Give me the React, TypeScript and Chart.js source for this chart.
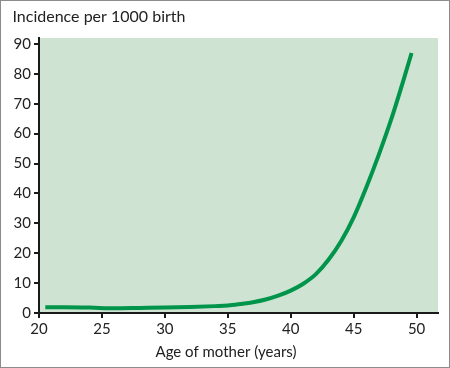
import React, { useEffect, useRef } from "react";
import { Chart, registerables } from "chart.js";

Chart.register(...registerables);

const ages = [20.5, 22, 24, 26, 28, 30, 32, 34, 35, 36, 37, 38, 39, 40, 41, 42, 43, 44, 45, 46, 47, 48, 49, 49.6];
const incidence = [1.9, 1.9, 1.8, 1.6, 1.7, 1.8, 2.0, 2.3, 2.5, 3.0, 3.6, 4.5, 5.8, 7.5, 9.8, 13.0, 17.8, 24.0, 32.0, 42.0, 53.0, 65.0, 78.5, 87.0];
const xTicks = [20, 25, 30, 35, 40, 45, 50];
const yTicks = [0, 10, 20, 30, 40, 50, 60, 70, 80, 90];
const yTitle = "Incidence per 1000 birth";
const xTitle = "Age of mother (years)";

const FONT = "Lato";

export default function App() {
  const ref = useRef<HTMLCanvasElement | null>(null);
  useEffect(() => {
    document.body.style.margin = "0";
    const canvas = ref.current;
    if (!canvas) return;
    const bgPlugin = {
      id: "bgAndText",
      beforeDraw(chart: any) {
        const { ctx, chartArea } = chart;
        ctx.save();
        ctx.fillStyle = "#ffffff";
        ctx.fillRect(0, 0, chart.width, chart.height);
        ctx.fillStyle = "#cfe3d2";
        ctx.fillRect(chartArea.left, chartArea.top, chartArea.right - chartArea.left, chartArea.bottom - chartArea.top);
        ctx.restore();
      },
      afterDraw(chart: any) {
        const { ctx } = chart;
        ctx.save();
        ctx.fillStyle = "#222222";
        ctx.textBaseline = "alphabetic";
        ctx.textAlign = "left";
        ctx.font = `16px ${FONT}`;
        ctx.fillText(yTitle, 11.5, 20.5);
        ctx.textAlign = "center";
        ctx.font = `15px ${FONT}`;
        ctx.fillText(xTitle, 225, 356);
        ctx.restore();
      },
    };
    const chart = new Chart(canvas, {
      type: "line",
      data: {
        datasets: [
          {
            data: ages.map((a, i) => ({ x: a, y: incidence[i] })),
            borderColor: "#00954a",
            borderWidth: 4,
            pointRadius: 0,
            cubicInterpolationMode: "monotone",
            fill: false,
          },
        ],
      },
      options: {
        animation: false,
        responsive: false,
        maintainAspectRatio: false,
        layout: { padding: { left: 0, right: 11, top: 37, bottom: 0 } },
        plugins: { legend: { display: false }, tooltip: { enabled: false }, title: { display: false } },
        scales: {
          x: {
            type: "linear",
            min: 20,
            max: 51.7,
            afterFit: (s: any) => {
              s.height = 54;
            },
            afterBuildTicks: (s: any) => {
              s.ticks = xTicks.map((v) => ({ value: v }));
            },
            grid: { display: true, drawOnChartArea: false, drawTicks: true, tickLength: 5, color: "#1a1a1a", lineWidth: 2 },
            border: { display: true, color: "#1a1a1a", width: 2 },
            ticks: { color: "#222222", font: { family: FONT, size: 15 }, padding: 2, maxRotation: 0, autoSkip: false },
          },
          y: {
            type: "linear",
            min: 0,
            max: 92,
            afterFit: (s: any) => {
              s.width = 38;
            },
            afterBuildTicks: (s: any) => {
              s.ticks = yTicks.map((v) => ({ value: v }));
            },
            grid: { display: true, drawOnChartArea: false, drawTicks: true, tickLength: 5, color: "#1a1a1a", lineWidth: 2 },
            border: { display: true, color: "#1a1a1a", width: 2 },
            ticks: { color: "#222222", font: { family: FONT, size: 15 }, padding: 3, autoSkip: false },
          },
        },
      },
      plugins: [bgPlugin],
    } as any);
    return () => chart.destroy();
  }, []);
  return (
    <div style={{ width: 450, height: 368, boxSizing: "border-box", border: "1px solid #8c8c8c", background: "#fff" }}>
      <canvas ref={ref} width={448} height={366} style={{ display: "block", width: 448, height: 366 }} />
    </div>
  );
}
